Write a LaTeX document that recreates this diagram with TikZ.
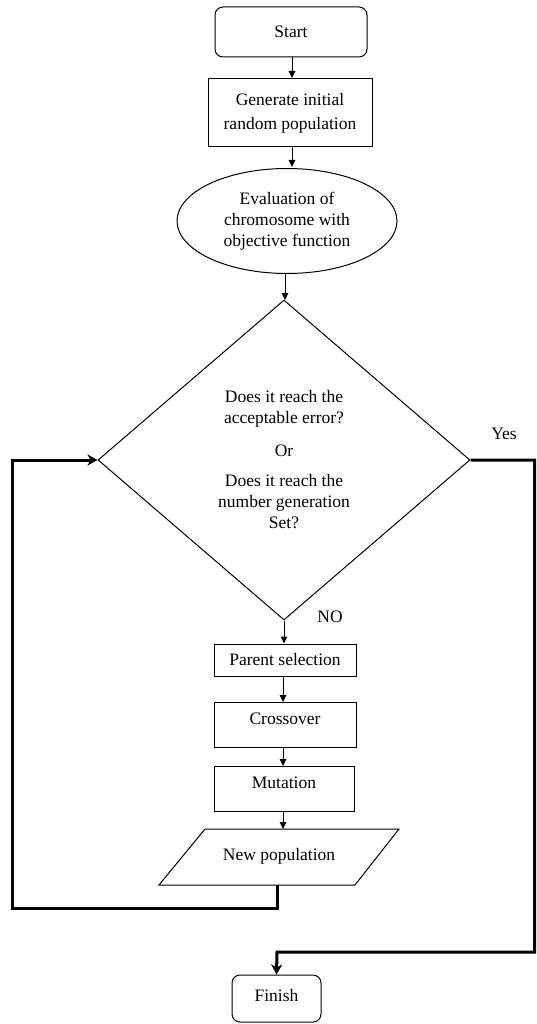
\documentclass[tikz,border=0pt]{standalone}
\usepackage{fontspec}
\setmainfont{Liberation Serif}
\newfontfamily\tnrfont{Liberation Serif}
\usetikzlibrary{shapes.geometric,arrows.meta}
\begin{document}
\begin{tikzpicture}[x=1pt,y=-1pt,
  every node/.style={font=\tnrfont\fontsize{17.5}{21}\selectfont, inner sep=0pt},
  proc/.style={draw, line width=1pt, inner sep=0pt},
  term/.style={proc, rounded corners=8pt},
  arr/.style={line width=1pt, -{Triangle[length=7pt,width=6.5pt]}},
  flowarr/.style={line width=3pt, line join=miter, -{Stealth[length=10pt,width=11pt,inset=3pt]}}]
\useasboundingbox (0,0) rectangle (536,1024);
\fill[white] (0,0) rectangle (536,1024);

\node[term, minimum width=152pt, minimum height=50pt] (start) at (291,32) {Start};
\node[proc, minimum width=164pt, minimum height=68pt, align=center] (gen) at (290,113) {Generate initial\\[3pt]random population};
\node[proc, ellipse, minimum width=220pt, minimum height=105pt, align=center] (eval) at (287,221) {Evaluation of\\chromosome with\\objective function};
\node[proc, diamond, aspect=1.16, minimum width=372pt, minimum height=320pt, align=center] (dec) at (284,460)
  {Does it reach the\\acceptable error?\\[12pt]Or\\[9pt]Does it reach the\\number generation\\Set?};

\node[proc, minimum width=142pt, minimum height=32pt] (par) at (285,660) {Parent selection};
\node[proc, minimum width=142pt, minimum height=45pt] (cross) at (285,724.5) {};
\node (crosst) at (285,719) {Crossover};
\node[proc, minimum width=140pt, minimum height=45pt] (mut) at (284,788.5) {};
\node (mutt) at (284,783) {Mutation};

\coordinate (np1) at (205,829);
\coordinate (np2) at (399,829);
\coordinate (np3) at (355,885);
\coordinate (np4) at (159,885);
\draw[line width=1pt, line join=miter] (np1) -- (np2) -- (np3) -- (np4) -- cycle;
\node (newpop) at (279,856) {New population};
\coordinate (nptop) at (283,829);
\coordinate (npbot) at (277,885);

\node[term, minimum width=89pt, minimum height=47pt] (fin) at (276.5,998.5) {};
\node (fint) at (276.5,996) {Finish};

\node (yes) at (504,434) {Yes};
\node (no) at (330,617) {NO};

% straight arrows
\draw[arr] (292,57) -- (292,78);
\draw[arr] (292,147) -- (292,167);
\draw[arr] (285,273) -- (285,300);
\draw[arr] (dec.south) -- (dec.south |- par.north);
\draw[arr] (283,676) -- (283,702);
\draw[arr] (283,747) -- (283,766);
\draw[arr] (283,811) -- (nptop);

% loop back
\coordinate (l1) at (277,908);
\coordinate (l2) at (12,908);
\coordinate (l3) at (12,460);
\draw[flowarr] (npbot) -- (l1) -- (l2) -- (l3) -- (dec.west);

% yes path
\coordinate (y1) at (534.5,460);
\coordinate (y2) at (534.5,952);
\coordinate (y3) at (277,952);
\draw[flowarr] (dec.east) -- (y1) -- (y2) -- (y3) -- (fin.north);
\end{tikzpicture}
\end{document}
